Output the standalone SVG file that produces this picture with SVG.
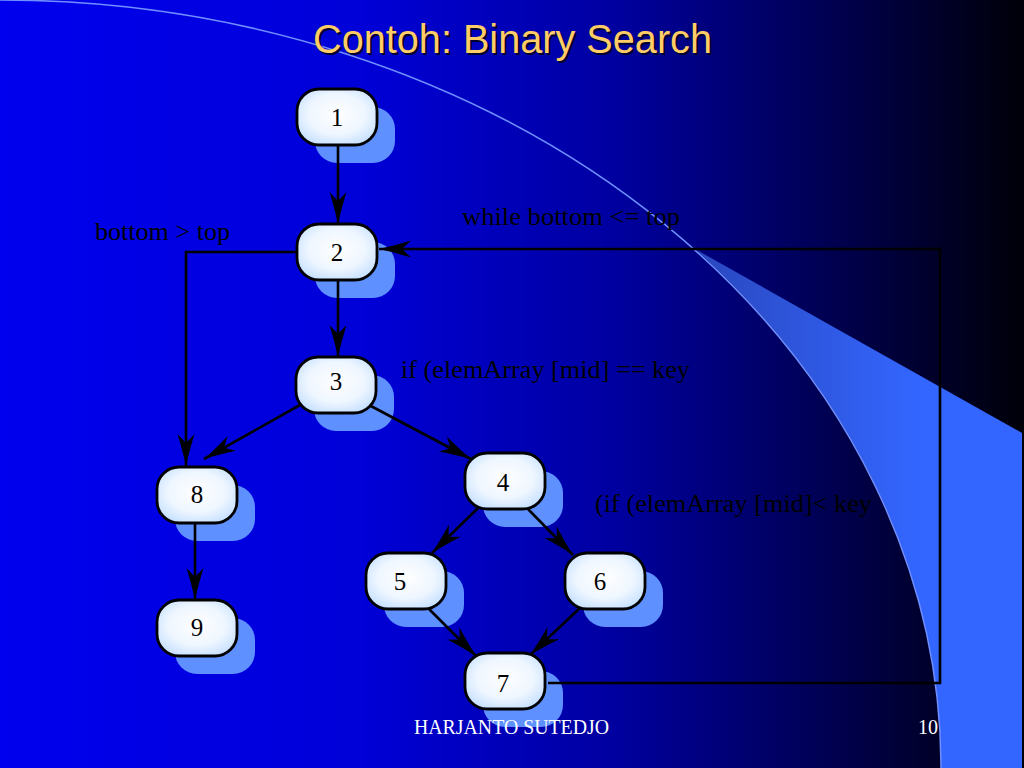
<svg xmlns="http://www.w3.org/2000/svg" width="1024" height="768" viewBox="0 0 1024 768">
<defs>
<linearGradient id="bg" x1="0" y1="0" x2="1024" y2="0" gradientUnits="userSpaceOnUse">
<stop offset="0" stop-color="#0000ee"/>
<stop offset="0.35" stop-color="#0000d8"/>
<stop offset="0.6" stop-color="#0000a0"/>
<stop offset="0.8" stop-color="#000055"/>
<stop offset="1" stop-color="#000008"/>
</linearGradient>
<linearGradient id="wedge" x1="700" y1="0" x2="920" y2="0" gradientUnits="userSpaceOnUse">
<stop offset="0" stop-color="#2a48c0"/>
<stop offset="1" stop-color="#3366ff"/>
</linearGradient>
<radialGradient id="nodefill" cx="50%" cy="45%" r="60%">
<stop offset="0" stop-color="#ffffff"/>
<stop offset="0.6" stop-color="#eef6ff"/>
<stop offset="1" stop-color="#c6e0ff"/>
</radialGradient>
<marker id="arr" viewBox="-34 -10 36 20" refX="0" refY="0" markerWidth="36" markerHeight="20" markerUnits="userSpaceOnUse" orient="auto">
<path d="M0,0 Q-14,-3 -32,-8.5 L-23,0 L-32,8.5 Q-14,3 0,0 Z" fill="#000"/>
</marker>
</defs>
<style>
.shadow{fill:#5f90ff}
.node rect{fill:url(#nodefill);stroke:#000;stroke-width:2.8}
.node text{font-family:"Liberation Serif","Times New Roman",serif;font-size:25px;fill:#000;text-anchor:middle}
.edge{fill:none;stroke:#000;stroke-width:2.6;marker-end:url(#arr)}
.lbl{font-family:"Liberation Serif","Times New Roman",serif;font-size:25px;fill:#000}
.foot{font-family:"Liberation Serif","Times New Roman",serif;font-size:20px;fill:#fff}
</style>
<rect x="0" y="0" width="1024" height="768" fill="url(#bg)"/>
<path d="M695,249 L1022,433 L1022,768 L941,768 A941,768 0 0,0 695,249 Z" fill="url(#wedge)"/>
<path d="M0,0 A941,768 0 0,1 941,768" fill="none" stroke="#6f8fff" stroke-width="1.5"/>
<g id="title">
<text x="315" y="55" font-family="'Liberation Sans',Arial,sans-serif" font-size="40" fill="#000030" textLength="399" lengthAdjust="spacingAndGlyphs">Contoh: Binary Search</text>
<text x="313" y="53" font-family="'Liberation Sans',Arial,sans-serif" font-size="40" fill="#ffcc66" textLength="399" lengthAdjust="spacingAndGlyphs">Contoh: Binary Search</text>
</g>
<g id="shadows">
<rect class="shadow" x="315" y="107" width="80" height="56" rx="22"/>
<rect class="shadow" x="315" y="242" width="80" height="56" rx="22"/>
<rect class="shadow" x="314" y="375" width="80" height="56" rx="22"/>
<rect class="shadow" x="175" y="485" width="80" height="56" rx="22"/>
<rect class="shadow" x="175" y="618" width="80" height="56" rx="22"/>
<rect class="shadow" x="483" y="471" width="80" height="56" rx="22"/>
<rect class="shadow" x="384" y="571" width="80" height="56" rx="22"/>
<rect class="shadow" x="583" y="571" width="80" height="56" rx="22"/>
<rect class="shadow" x="483" y="671" width="80" height="56" rx="22"/>
</g>
<g id="connectors">
<path class="edge" d="M338,145 L338,224"/>
<path class="edge" d="M338,279 L338,357"/>
<path class="edge" d="M297,252 L186,252 L186,466"/>
<path class="edge" d="M300,405 L204,459"/>
<path class="edge" d="M369,405 L471,459"/>
<path class="edge" d="M478,508 L432,553"/>
<path class="edge" d="M527,508 L573,555"/>
<path class="edge" d="M428,608 L476,656"/>
<path class="edge" d="M581,607 L530,655"/>
<path class="edge" d="M195,522 L195,600"/>
<path class="edge" d="M548,683 L940,683 L940,249 L379,249"/>
</g>
<g id="node1" class="node"><rect x="297" y="89" width="80" height="56" rx="22"/><text x="337" y="126">1</text></g>
<g id="node2" class="node"><rect x="297" y="224" width="80" height="56" rx="22"/><text x="337" y="261">2</text></g>
<g id="node3" class="node"><rect x="296" y="357" width="80" height="56" rx="22"/><text x="336" y="390">3</text></g>
<g id="node8" class="node"><rect x="157" y="467" width="80" height="56" rx="22"/><text x="197" y="503">8</text></g>
<g id="node9" class="node"><rect x="157" y="600" width="80" height="56" rx="22"/><text x="197" y="636">9</text></g>
<g id="node4" class="node"><rect x="465" y="453" width="80" height="56" rx="22"/><text x="503" y="491">4</text></g>
<g id="node5" class="node"><rect x="366" y="553" width="80" height="56" rx="22"/><text x="400" y="590">5</text></g>
<g id="node6" class="node"><rect x="565" y="553" width="80" height="56" rx="22"/><text x="600" y="590">6</text></g>
<g id="node7" class="node"><rect x="465" y="653" width="80" height="56" rx="22"/><text x="503" y="692">7</text></g>
<g id="labels">
<text class="lbl" x="95" y="240" textLength="135" lengthAdjust="spacingAndGlyphs">bottom &gt; top</text>
<text class="lbl" x="462" y="225" textLength="218" lengthAdjust="spacingAndGlyphs">while bottom &lt;= top</text>
<text class="lbl" x="401" y="378" textLength="289" lengthAdjust="spacingAndGlyphs">if (elemArray [mid] == key</text>
<text class="lbl" x="595" y="512" textLength="277" lengthAdjust="spacingAndGlyphs">(if (elemArray [mid]&lt; key</text>
</g>
<g id="footer">
<text class="foot" x="414" y="734" textLength="195" lengthAdjust="spacingAndGlyphs">HARJANTO SUTEDJO</text>
<text class="foot" x="918" y="734">10</text>
</g>
</svg>
